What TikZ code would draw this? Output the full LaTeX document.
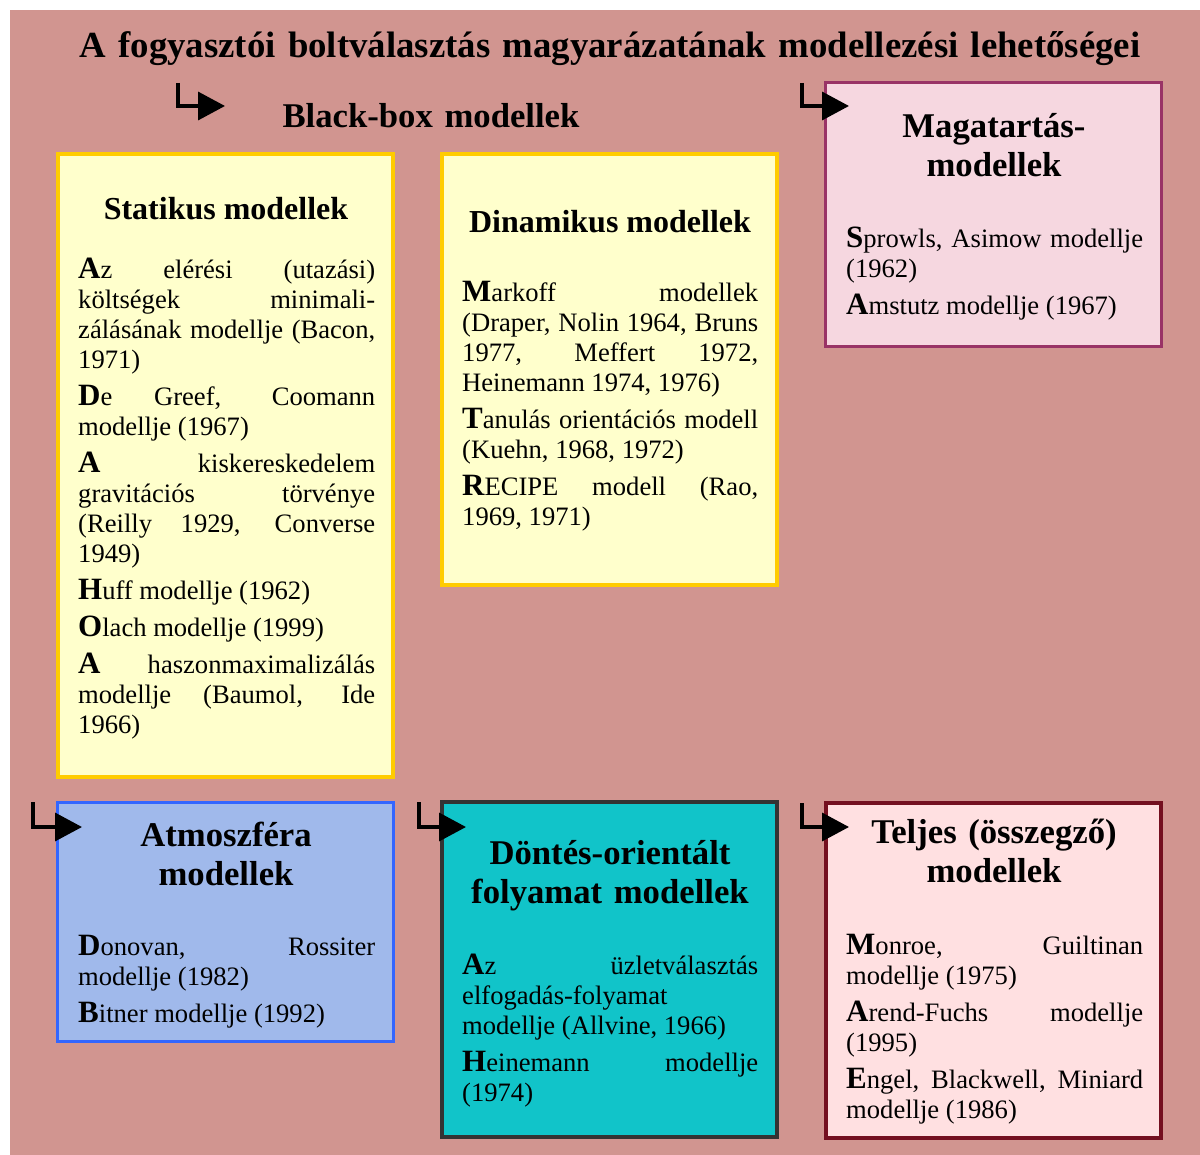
\documentclass[tikz,border=0pt]{standalone}
\usepackage{fontspec}
\setmainfont{Liberation Serif}
\usetikzlibrary{arrows.meta}

\definecolor{bgrose}{RGB}{209,149,144}
\definecolor{yellowfill}{HTML}{FFFFCC}
\definecolor{yellowdraw}{HTML}{FFCC00}
\definecolor{magfill}{RGB}{246,215,224}
\definecolor{magdraw}{HTML}{993366}
\definecolor{atmfill}{RGB}{160,185,235}
\definecolor{atmdraw}{HTML}{3366FF}
\definecolor{dontfill}{RGB}{17,196,201}
\definecolor{dontdraw}{HTML}{333333}
\definecolor{teljfill}{RGB}{255,224,225}
\definecolor{teljdraw}{RGB}{116,16,32}

% paragraph set-up of the body texts (justified, fixed line breaks)
\newcommand{\bodysetup}{\fontsize{26.6}{30}\selectfont
  \parindent=0pt \parskip=7pt \leftskip=0pt \rightskip=0pt
  \parfillskip=0pt plus 1fil
  \tolerance=10000 \hbadness=10000 \emergencystretch=0pt
  \hyphenpenalty=10000 \exhyphenpenalty=10000}
\newcommand{\bodybox}[2][297pt]{\parbox[t]{#1}{\bodysetup #2}}
% bold, slightly larger first letter of an entry
\newcommand{\ini}[1]{{\fontsize{31}{31}\selectfont\bfseries #1}}

\tikzset{
  panel/.style={anchor=north west, inner sep=0pt, outer sep=0pt},
  yellowbox/.style={panel, fill=yellowfill, draw=yellowdraw, line width=4pt},
  magbox/.style={panel, fill=magfill, draw=magdraw, line width=3pt},
  atmbox/.style={panel, fill=atmfill, draw=atmdraw, line width=3pt},
  dontbox/.style={panel, fill=dontfill, draw=dontdraw, line width=4pt},
  teljbox/.style={panel, fill=teljfill, draw=teljdraw, line width=4pt},
  body/.style={inner sep=0pt, anchor=base west},
  head/.style={font=\fontsize{32}{36}\selectfont\bfseries, inner sep=0pt, anchor=base},
  bighead/.style={font=\fontsize{34.7}{39}\selectfont\bfseries, inner sep=0pt,
    anchor=base, text width=330pt, align=center},
  lbullet/.style={line width=3.5pt,
    -{Triangle[length=27pt, width=28pt]}},
}

\begin{document}
\begin{tikzpicture}[x=1pt, y=-1pt]
\useasboundingbox (0,0) rectangle (1200,1155);
\fill[bgrose] (10,10) rectangle (1200,1155);

% title lines
\node[bighead, text width=1180pt, font=\fontsize{36.8}{40}\selectfont\bfseries] (title) at (610,58)
  {A fogyasztói boltválasztás magyarázatának modellezési lehetőségei};
\node[bighead] (blackbox) at (431,128) {Black-box modellek};

% panels
\node[yellowbox, minimum width=335pt, minimum height=623pt] (stat) at (58,154) {};
\node[yellowbox, minimum width=335pt, minimum height=431pt] (dyn) at (442,154) {};
\node[magbox, minimum width=336pt, minimum height=264pt] (mag) at (825.5,82.5) {};
\node[atmbox, minimum width=336pt, minimum height=239pt] (atm) at (57.5,802.5) {};
\node[dontbox, minimum width=335pt, minimum height=335pt] (dont) at (442,802) {};
\node[teljbox, minimum width=335pt, minimum height=335pt] (telj) at (826,803) {};

% static models
\node[head] (statHead) at (226,220) {Statikus modellek};
\node[body] (statText) at (78,279) {\bodybox{%
\ini{A}z elérési (utazási) \linebreak költségek minimali-\linebreak zálásának modellje (Bacon,\linebreak 1971)\par
\ini{D}e Greef, Coomann \linebreak modellje (1967)\par
\ini{A} kiskereskedelem \linebreak gravitációs törvénye \linebreak (Reilly 1929, Converse \linebreak 1949)\par
\ini{H}uff modellje (1962)\par
\ini{O}lach modellje (1999)\par
\ini{A} haszonmaximalizálás \linebreak modellje (Baumol, Ide \linebreak 1966)}};

% dynamic models
\node[head] (dynHead) at (610,233) {Dinamikus modellek};
\node[body] (dynText) at (462,302) {\bodybox[296pt]{%
\ini{M}arkoff modellek \linebreak (Draper, Nolin 1964, Bruns \linebreak 1977, Meffert 1972, \linebreak Heinemann 1974, 1976)\par
\ini{T}anulás orientációs modell \linebreak (Kuehn, 1968, 1972)\par
\ini{R}ECIPE modell (Rao, \linebreak 1969, 1971)}};

% behaviour models
\node[bighead] (magHead) at (994,138) {Magatartás-\\modellek};
\node[body] (magText) at (846,248) {\bodybox{%
\ini{S}prowls, Asimow modellje \linebreak (1962)\par
\ini{A}mstutz modellje (1967)}};

% atmosphere models
\node[bighead] (atmHead) at (226,846) {Atmoszféra\\modellek};
\node[body] (atmText) at (78,955) {\bodybox{%
\ini{D}onovan, Rossiter \linebreak modellje (1982)\par
\ini{B}itner modellje (1992)}};

% decision-oriented process models
\node[bighead] (dontHead) at (610,864) {Döntés-orientált\\folyamat modellek};
\node[body] (dontText) at (462,974) {\bodybox[296pt]{%
\ini{A}z üzletválasztás \linebreak elfogadás-folyamat \linebreak modellje (Allvine, 1966)\par
\ini{H}einemann modellje \linebreak (1974)}};

% complete (summarising) models
\node[bighead] (teljHead) at (994,843) {Teljes (összegző)\\modellek};
\node[body] (teljText) at (846,954) {\bodybox{%
\ini{M}onroe, Guiltinan \linebreak modellje (1975)\par
\ini{A}rend-Fuchs modellje \linebreak (1995)\par
\ini{E}ngel, Blackwell, Miniard \linebreak modellje (1986)}};

% hooked bullet arrows
\coordinate (bbStart) at (178,83);   \coordinate (bbTip) at (225,106);
\coordinate (magStart) at (802,83);  \coordinate (magTip) at (849,106);
\coordinate (atmStart) at (33,802);  \coordinate (atmTip) at (82,827);
\coordinate (dontStart) at (419,802); \coordinate (dontTip) at (466,827);
\coordinate (teljStart) at (802,803); \coordinate (teljTip) at (849,827);
\draw[lbullet] (bbStart) |- (bbTip);
\draw[lbullet] (magStart) |- (magTip);
\draw[lbullet] (atmStart) |- (atmTip);
\draw[lbullet] (dontStart) |- (dontTip);
\draw[lbullet] (teljStart) |- (teljTip);
\end{tikzpicture}
\end{document}
